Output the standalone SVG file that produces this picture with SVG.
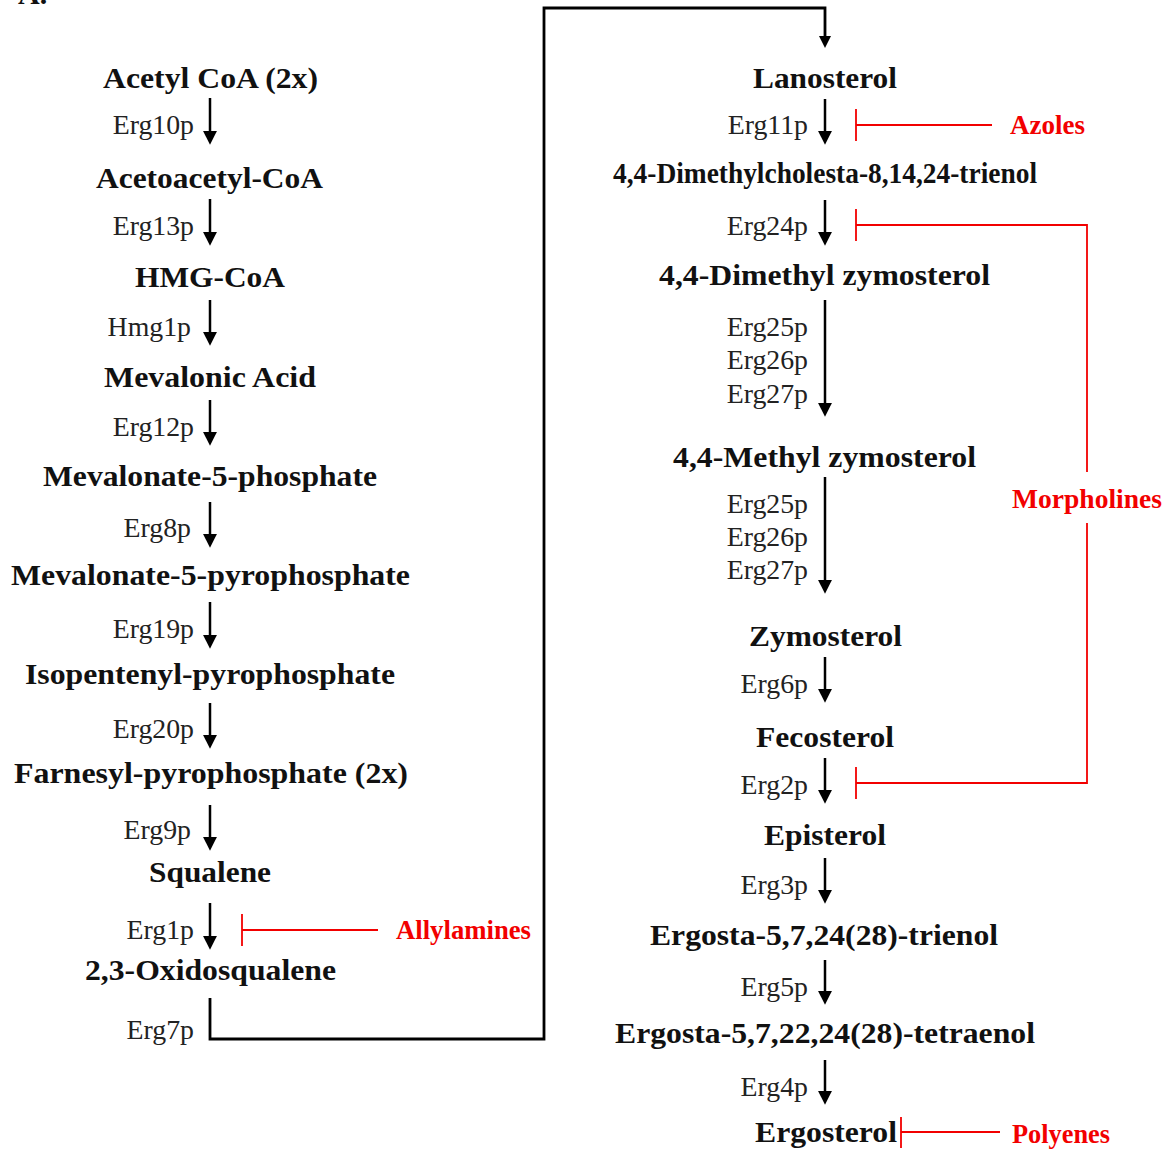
<svg xmlns="http://www.w3.org/2000/svg" width="1167" height="1151" viewBox="0 0 1167 1151">
<style>
.c{font-family:"Liberation Serif","Times New Roman",serif;font-weight:bold;font-size:30px;fill:#111;text-anchor:middle}
.e{font-family:"Liberation Serif","Times New Roman",serif;font-size:27.8px;fill:#222;text-anchor:end}
.r{font-family:"Liberation Serif","Times New Roman",serif;font-weight:bold;font-size:26.5px;fill:#f20000}
.a{stroke:#000;stroke-width:2.5;fill:none;marker-end:url(#ah)}
.k{stroke:#000;stroke-width:2.8;fill:none}
.i{stroke:#f20000;stroke-width:1.8;fill:none}
</style>
<defs>
<marker id="ah" markerUnits="userSpaceOnUse" markerWidth="14" markerHeight="14" viewBox="0 0 12 12" refX="1" refY="6" orient="auto">
<path d="M0,0 L12,6 L0,12 z" fill="#000"/>
</marker>
</defs>
<rect width="1167" height="1151" fill="#fff"/>
<text x="18" y="4" font-family="Liberation Serif, serif" font-weight="bold" font-size="30" fill="#111">A.</text>

<g id="connectors">
<path class="a" d="M210,98 V132"/>
<path class="a" d="M210,199 V233"/>
<path class="a" d="M210,300 V333"/>
<path class="a" d="M210,400 V433"/>
<path class="a" d="M210,502 V535"/>
<path class="a" d="M210,602 V636"/>
<path class="a" d="M210,703 V736"/>
<path class="a" d="M210,805 V838"/>
<path class="a" d="M210,903 V937"/>
<path class="k" d="M210,998 V1039 H544 V8 H825 V37" />
<path d="M819,36 L831,36 L825,48 z" fill="#000"/>
<path class="a" d="M825,99 V132"/>
<path class="a" d="M825,200 V233"/>
<path class="a" d="M825,300 V404"/>
<path class="a" d="M825,477 V581"/>
<path class="a" d="M825,657 V690"/>
<path class="a" d="M825,758 V791"/>
<path class="a" d="M825,858 V891"/>
<path class="a" d="M825,960 V992"/>
<path class="a" d="M825,1060 V1092"/>
</g>

<g id="inhibitors">
<path class="i" d="M242,914 V946 M242,930 H378"/>
<path class="i" d="M856,109 V141 M856,125 H992"/>
<path class="i" d="M856,209 V241 M856,225 H1087 V472 M1087,523 V783 H856 M856,767 V799"/>
<path class="i" d="M901,1117 V1148 M901,1132 H1000"/>
</g>

<g id="n-acetylcoa"><text class="c" x="210.5" y="88" textLength="215" lengthAdjust="spacingAndGlyphs">Acetyl CoA (2x)</text></g>
<g id="n-acetoacetylcoa"><text class="c" x="209.5" y="188" textLength="227" lengthAdjust="spacingAndGlyphs">Acetoacetyl-CoA</text></g>
<g id="n-hmgcoa"><text class="c" x="210" y="287" textLength="150" lengthAdjust="spacingAndGlyphs">HMG-CoA</text></g>
<g id="n-mevalonic"><text class="c" x="210" y="387" textLength="212" lengthAdjust="spacingAndGlyphs">Mevalonic Acid</text></g>
<g id="n-mev5p"><text class="c" x="210" y="486" textLength="334" lengthAdjust="spacingAndGlyphs">Mevalonate-5-phosphate</text></g>
<g id="n-mev5pp"><text class="c" x="210.5" y="585" textLength="399" lengthAdjust="spacingAndGlyphs">Mevalonate-5-pyrophosphate</text></g>
<g id="n-ipp"><text class="c" x="210" y="684" textLength="370" lengthAdjust="spacingAndGlyphs">Isopentenyl-pyrophosphate</text></g>
<g id="n-fpp"><text class="c" x="211" y="783" textLength="394" lengthAdjust="spacingAndGlyphs">Farnesyl-pyrophosphate (2x)</text></g>
<g id="n-squalene"><text class="c" x="210" y="882" textLength="122" lengthAdjust="spacingAndGlyphs">Squalene</text></g>
<g id="n-oxidosqualene"><text class="c" x="210.5" y="980" textLength="251" lengthAdjust="spacingAndGlyphs">2,3-Oxidosqualene</text></g>

<g id="enz-left">
<text class="e" x="194" y="134">Erg10p</text>
<text class="e" x="194" y="235">Erg13p</text>
<text class="e" x="191" y="336">Hmg1p</text>
<text class="e" x="194" y="436">Erg12p</text>
<text class="e" x="191" y="537">Erg8p</text>
<text class="e" x="194" y="638">Erg19p</text>
<text class="e" x="194" y="738">Erg20p</text>
<text class="e" x="191" y="839">Erg9p</text>
<text class="e" x="194" y="939">Erg1p</text>
<text class="e" x="194" y="1039">Erg7p</text>
</g>

<g id="n-lanosterol"><text class="c" x="825" y="88" textLength="144" lengthAdjust="spacingAndGlyphs">Lanosterol</text></g>
<g id="n-dimethylcholesta"><text class="c" x="825" y="183" font-size="27" textLength="424" lengthAdjust="spacingAndGlyphs">4,4-Dimethylcholesta-8,14,24-trienol</text></g>
<g id="n-dimethylzymo"><text class="c" x="824.5" y="285" textLength="331" lengthAdjust="spacingAndGlyphs">4,4-Dimethyl zymosterol</text></g>
<g id="n-methylzymo"><text class="c" x="824.5" y="467" textLength="303" lengthAdjust="spacingAndGlyphs">4,4-Methyl zymosterol</text></g>
<g id="n-zymosterol"><text class="c" x="825.5" y="646" textLength="153" lengthAdjust="spacingAndGlyphs">Zymosterol</text></g>
<g id="n-fecosterol"><text class="c" x="825" y="747" textLength="138" lengthAdjust="spacingAndGlyphs">Fecosterol</text></g>
<g id="n-episterol"><text class="c" x="825" y="845" textLength="122" lengthAdjust="spacingAndGlyphs">Episterol</text></g>
<g id="n-trienol"><text class="c" x="824" y="945" textLength="348" lengthAdjust="spacingAndGlyphs">Ergosta-5,7,24(28)-trienol</text></g>
<g id="n-tetraenol"><text class="c" x="825" y="1043" textLength="420" lengthAdjust="spacingAndGlyphs">Ergosta-5,7,22,24(28)-tetraenol</text></g>
<g id="n-ergosterol"><text class="c" x="826" y="1142" textLength="142" lengthAdjust="spacingAndGlyphs">Ergosterol</text></g>

<g id="enz-right">
<text class="e" x="808" y="134">Erg11p</text>
<text class="e" x="808" y="235">Erg24p</text>
<text class="e" x="808" y="336">Erg25p</text>
<text class="e" x="808" y="369">Erg26p</text>
<text class="e" x="808" y="403">Erg27p</text>
<text class="e" x="808" y="513">Erg25p</text>
<text class="e" x="808" y="546">Erg26p</text>
<text class="e" x="808" y="579">Erg27p</text>
<text class="e" x="808" y="693">Erg6p</text>
<text class="e" x="808" y="794">Erg2p</text>
<text class="e" x="808" y="894">Erg3p</text>
<text class="e" x="808" y="996">Erg5p</text>
<text class="e" x="808" y="1096">Erg4p</text>
</g>

<g id="drugs">
<text class="r" x="396" y="939" textLength="135" lengthAdjust="spacingAndGlyphs">Allylamines</text>
<text class="r" x="1010" y="134" textLength="75" lengthAdjust="spacingAndGlyphs">Azoles</text>
<text class="r" x="1012" y="508" textLength="150" lengthAdjust="spacingAndGlyphs">Morpholines</text>
<text class="r" x="1012" y="1143" textLength="98" lengthAdjust="spacingAndGlyphs">Polyenes</text>
</g>
</svg>
